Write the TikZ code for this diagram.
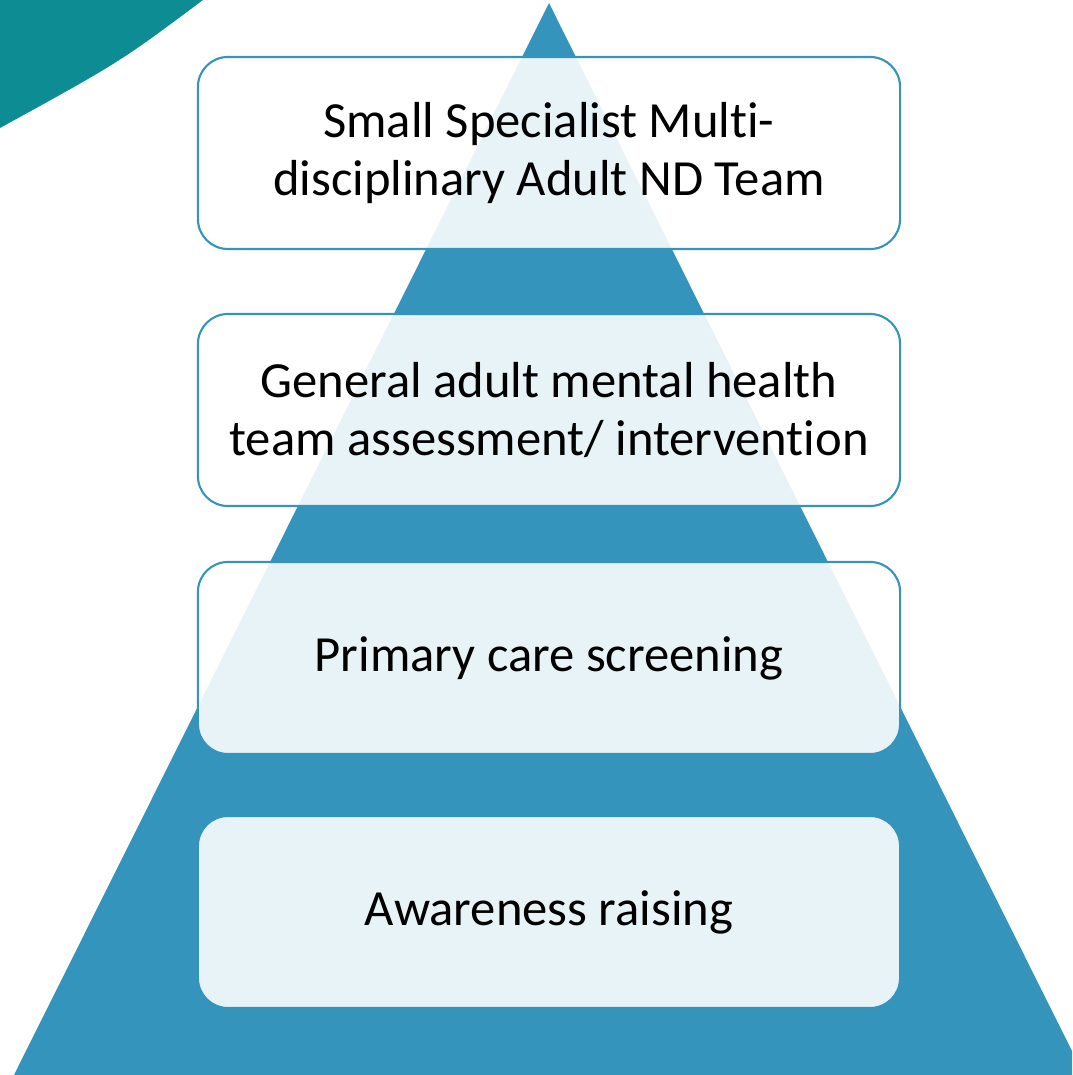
\documentclass[tikz,border=0pt]{standalone}
\usepackage{fontspec}
\setmainfont[Ligatures={NoCommon,NoRequired,NoContextual,NoRare}]{Carlito}
\usetikzlibrary{positioning}
\definecolor{pyrblue}{HTML}{3594BC}
\definecolor{cornerteal}{HTML}{0E8C93}
\begin{document}
\begin{tikzpicture}[x=0.025cm,y=-0.025cm,
  tier/.style={rectangle,rounded corners=0.75cm,draw=pyrblue,line width=1.5pt,
    fill=white,fill opacity=0.89,text opacity=1,minimum width=17.55cm,
    minimum height=4.8cm,inner sep=0pt,align=center,font=\fontsize{36}{41}\selectfont}]
\useasboundingbox (0,0) rectangle (1072,1075);
\begin{scope}
\clip (0,0) rectangle (1072,1075);
\fill[cornerteal] (0,0) -- (203,0) .. controls (120,62) .. (0,128) -- cycle;
\coordinate (apex) at (549,3);
\coordinate (baseL) at (14,1075);
\coordinate (baseR) at (1084,1075);
\fill[pyrblue] (apex) -- (baseL) -- (baseR) -- cycle;
\end{scope}
\node[tier] (T1) at (549,153) {Small Specialist Multi-\\disciplinary Adult ND Team};
\node[tier] (T2) at (549,410) {General adult mental health\\team assessment/ intervention};
\node[tier] (T3) at (549,658) {Primary care screening};
\node[tier] (T4) at (549,912) {Awareness raising};
\end{tikzpicture}
\end{document}
